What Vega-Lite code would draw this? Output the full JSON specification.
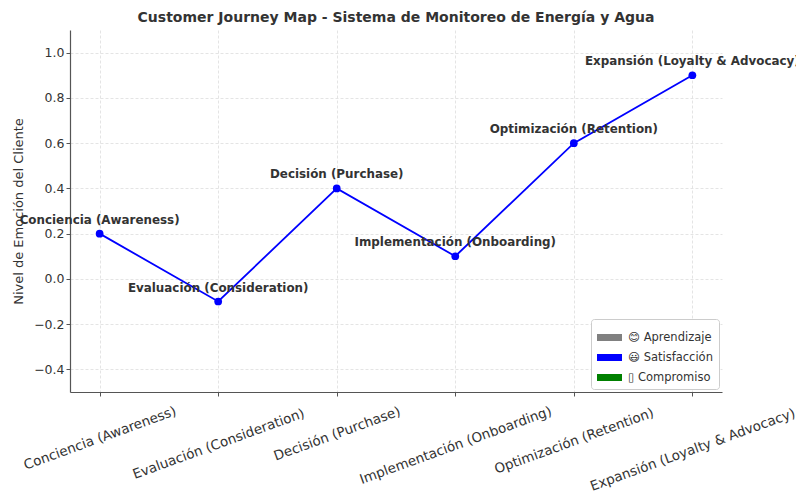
{
  "$schema": "https://vega.github.io/schema/vega-lite/v6.json",
  "width": 652,
  "height": 362,
  "autosize": {"type": "none"},
  "padding": {"left": 70, "top": 30, "right": 74, "bottom": 101},
  "background": "white",
  "config": {
    "view": {"stroke": null},
    "font": "DejaVu Sans",
    "axis": {
      "domainColor": "#555",
      "domainWidth": 1.2,
      "tickColor": "#555",
      "tickSize": 4,
      "labelColor": "#333",
      "labelFontSize": 12.5,
      "titleColor": "#333",
      "titleFontWeight": "normal",
      "titleFontSize": 13,
      "gridColor": "#ddd",
      "gridDash": [3, 2],
      "gridWidth": 0.8
    }
  },
  "title": {
    "text": "Customer Journey Map - Sistema de Monitoreo de Energía y Agua",
    "fontSize": 14,
    "fontWeight": "bold",
    "color": "#333",
    "anchor": "middle",
    "offset": 5
  },
  "datasets": {
    "journey": [
      {"etapa": "Conciencia (Awareness)", "emocion": 0.2},
      {"etapa": "Evaluación (Consideration)", "emocion": -0.1},
      {"etapa": "Decisión (Purchase)", "emocion": 0.4},
      {"etapa": "Implementación (Onboarding)", "emocion": 0.1},
      {"etapa": "Optimización (Retention)", "emocion": 0.6},
      {"etapa": "Expansión (Loyalty & Advocacy)", "emocion": 0.9}
    ],
    "leyenda": [
      {"categoria": "😊 Aprendizaje"},
      {"categoria": "😃 Satisfacción"},
      {"categoria": "▯ Compromiso"}
    ]
  },
  "layer": [
    {
      "data": {"name": "journey"},
      "mark": {"type": "line", "color": "#0000ff", "strokeWidth": 1.8},
      "encoding": {
        "x": {
          "field": "etapa", "type": "ordinal", "sort": null,
          "scale": {"type": "point", "padding": 0.25},
          "axis": {
            "title": null, "labelAngle": -20, "labelAlign": "center", "labelBaseline": "middle",
            "labelPadding": {"expr": "10 + length(datum.label) * 1.45"},
            "labelFontSize": 13.5, "grid": true, "labelLimit": 400
          }
        },
        "y": {
          "field": "emocion", "type": "quantitative",
          "scale": {"domain": [-0.5, 1.1], "nice": false, "zero": false},
          "axis": {"title": "Nivel de Emoción del Cliente", "values": [-0.4, -0.2, 0, 0.2, 0.4, 0.6, 0.8, 1.0], "format": ".1f", "grid": true, "titlePadding": 8}
        }
      }
    },
    {
      "data": {"name": "journey"},
      "mark": {"type": "point", "filled": true, "color": "#0000ff", "opacity": 1, "size": 60},
      "encoding": {
        "x": {"field": "etapa", "type": "ordinal", "sort": null},
        "y": {"field": "emocion", "type": "quantitative"}
      }
    },
    {
      "data": {"name": "journey"},
      "mark": {"type": "text", "fontSize": 11.9, "fontWeight": "bold", "color": "#333", "baseline": "alphabetic", "dy": -10},
      "encoding": {
        "x": {"field": "etapa", "type": "ordinal", "sort": null},
        "y": {"field": "emocion", "type": "quantitative"},
        "text": {"field": "etapa"}
      }
    },
    {
      "data": {"name": "leyenda"},
      "mark": {"type": "point", "filled": true, "opacity": 0},
      "encoding": {
        "color": {
          "field": "categoria", "type": "nominal",
          "scale": {"domain": ["😊 Aprendizaje", "😃 Satisfacción", "▯ Compromiso"], "range": ["#808080", "#0000ff", "#008000"]},
          "legend": {
            "title": null,
            "orient": "bottom-right",
            "offset": 3,
            "symbolType": "M-1,-0.28H1V0.28H-1Z",
            "symbolSize": 625,
            "symbolOpacity": 1,
            "symbolStrokeWidth": 0,
            "labelFontSize": 11.5,
            "labelColor": "#333",
            "labelOffset": 6,
            "rowPadding": 2,
            "padding": 6,
            "strokeColor": "#ccc",
            "fillColor": "white",
            "cornerRadius": 3
          }
        }
      }
    }
  ]
}
